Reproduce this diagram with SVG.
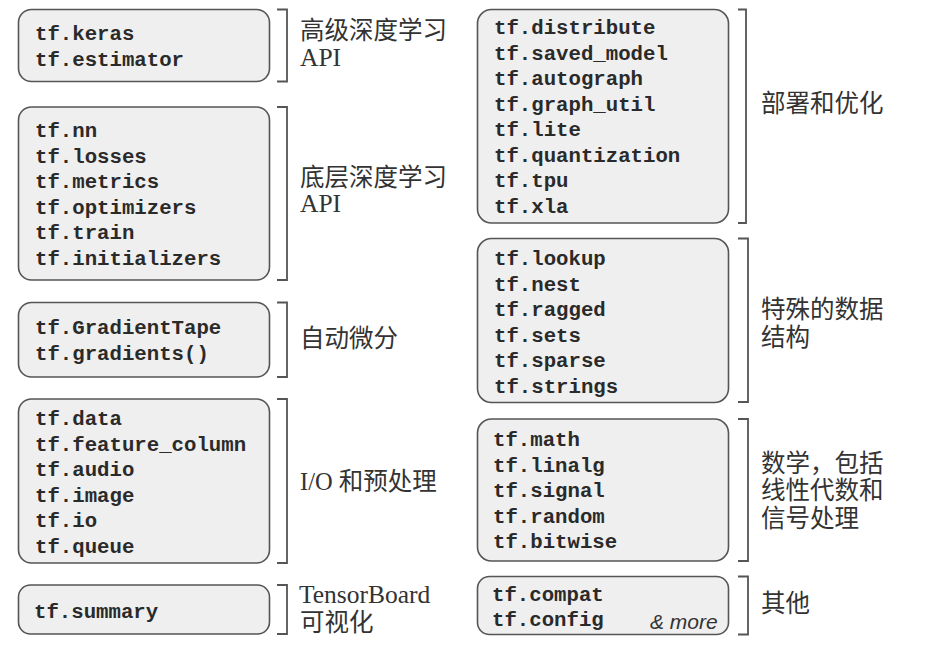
<svg xmlns="http://www.w3.org/2000/svg" width="941" height="647" viewBox="0 0 941 647">
<style>
.box{fill:#efefef;stroke:#555;stroke-width:1.6}
.code{font-family:"Liberation Mono","Courier New",monospace;font-weight:bold;font-size:20.7px;fill:#2a2a2a}
.lbl{font-family:"Liberation Serif","Noto Sans CJK SC",serif;font-size:24.5px;fill:#333}
.lat{font-size:25.5px}
.br{fill:none;stroke:#555;stroke-width:1.8}
.more{font-family:"Liberation Sans",Arial,sans-serif;font-style:italic;font-size:21px;fill:#333}
</style>
<rect width="941" height="647" fill="#fff"/>
<g id="connectors">
<path class="br" d="M277,9.5H287V81.5H277"/>
<path class="br" d="M277,107H287V280H277"/>
<path class="br" d="M277,302.5H287V377H277"/>
<path class="br" d="M277,399H287V563H277"/>
<path class="br" d="M277,585H287V634H277"/>
<path class="br" d="M738,9.5H746V223H738"/>
<path class="br" d="M738,238.5H748V402H738"/>
<path class="br" d="M738,419H748V561H738"/>
<path class="br" d="M738,576.5H748V634.5H738"/>
</g>
<g id="n-highlevel">
<rect class="box" x="18.5" y="9.5" width="251" height="72" rx="13"/>
<text class="code" x="35" y="40">tf.keras</text>
<text class="code" x="35" y="65.5">tf.estimator</text>
<text class="lbl" x="300" y="39">高级深度学习</text>
<text class="lbl lat" x="300" y="66">API</text>
</g>
<g id="n-lowlevel">
<rect class="box" x="18.5" y="107" width="251" height="173" rx="13"/>
<text class="code" x="35" y="137">tf.nn</text>
<text class="code" x="35" y="162.5">tf.losses</text>
<text class="code" x="35" y="188">tf.metrics</text>
<text class="code" x="35" y="213.5">tf.optimizers</text>
<text class="code" x="35" y="239">tf.train</text>
<text class="code" x="35" y="264.5">tf.initializers</text>
<text class="lbl" x="300" y="186">底层深度学习</text>
<text class="lbl lat" x="300" y="212">API</text>
</g>
<g id="n-autodiff">
<rect class="box" x="18.5" y="302.5" width="251" height="74.5" rx="13"/>
<text class="code" x="35" y="334">tf.GradientTape</text>
<text class="code" x="35" y="359.5">tf.gradients()</text>
<text class="lbl" x="300" y="347">自动微分</text>
</g>
<g id="n-io">
<rect class="box" x="18.5" y="399" width="251" height="164" rx="13"/>
<text class="code" x="35" y="425">tf.data</text>
<text class="code" x="35" y="450.5">tf.feature_column</text>
<text class="code" x="35" y="476">tf.audio</text>
<text class="code" x="35" y="501.5">tf.image</text>
<text class="code" x="35" y="527">tf.io</text>
<text class="code" x="35" y="552.5">tf.queue</text>
<text class="lbl" x="300" y="490">I/O 和预处理</text>
</g>
<g id="n-summary">
<rect class="box" x="18.5" y="585" width="251" height="49" rx="12"/>
<text class="code" x="34" y="617.5">tf.summary</text>
<text class="lbl lat" x="299" y="603">TensorBoard</text>
<text class="lbl" x="300" y="631">可视化</text>
</g>
<g id="n-deploy">
<rect class="box" x="477.5" y="9.5" width="251" height="213.5" rx="14"/>
<text class="code" x="494" y="34">tf.distribute</text>
<text class="code" x="494" y="59.5">tf.saved_model</text>
<text class="code" x="494" y="85">tf.autograph</text>
<text class="code" x="494" y="110.5">tf.graph_util</text>
<text class="code" x="494" y="136">tf.lite</text>
<text class="code" x="494" y="161.5">tf.quantization</text>
<text class="code" x="494" y="187">tf.tpu</text>
<text class="code" x="494" y="212.5">tf.xla</text>
<text class="lbl" x="761" y="112">部署和优化</text>
</g>
<g id="n-datastruct">
<rect class="box" x="477.5" y="238.5" width="251" height="164" rx="14"/>
<text class="code" x="494" y="265">tf.lookup</text>
<text class="code" x="494" y="290.5">tf.nest</text>
<text class="code" x="494" y="316">tf.ragged</text>
<text class="code" x="494" y="341.5">tf.sets</text>
<text class="code" x="494" y="367">tf.sparse</text>
<text class="code" x="494" y="392.5">tf.strings</text>
<text class="lbl" x="761" y="318">特殊的数据</text>
<text class="lbl" x="761" y="346">结构</text>
</g>
<g id="n-math">
<rect class="box" x="477.5" y="419" width="251" height="142" rx="14"/>
<text class="code" x="493" y="446">tf.math</text>
<text class="code" x="493" y="471.5">tf.linalg</text>
<text class="code" x="493" y="497">tf.signal</text>
<text class="code" x="493" y="522.5">tf.random</text>
<text class="code" x="493" y="548">tf.bitwise</text>
<text class="lbl" x="761" y="472">数学，包括</text>
<text class="lbl" x="761" y="499">线性代数和</text>
<text class="lbl" x="761" y="527">信号处理</text>
</g>
<g id="n-other">
<rect class="box" x="477.5" y="576.5" width="251" height="58" rx="12"/>
<text class="code" x="492" y="601">tf.compat</text>
<text class="code" x="492" y="626">tf.config</text>
<text class="more" x="650" y="629">&amp; more</text>
<text class="lbl" x="761" y="612">其他</text>
</g>
</svg>
